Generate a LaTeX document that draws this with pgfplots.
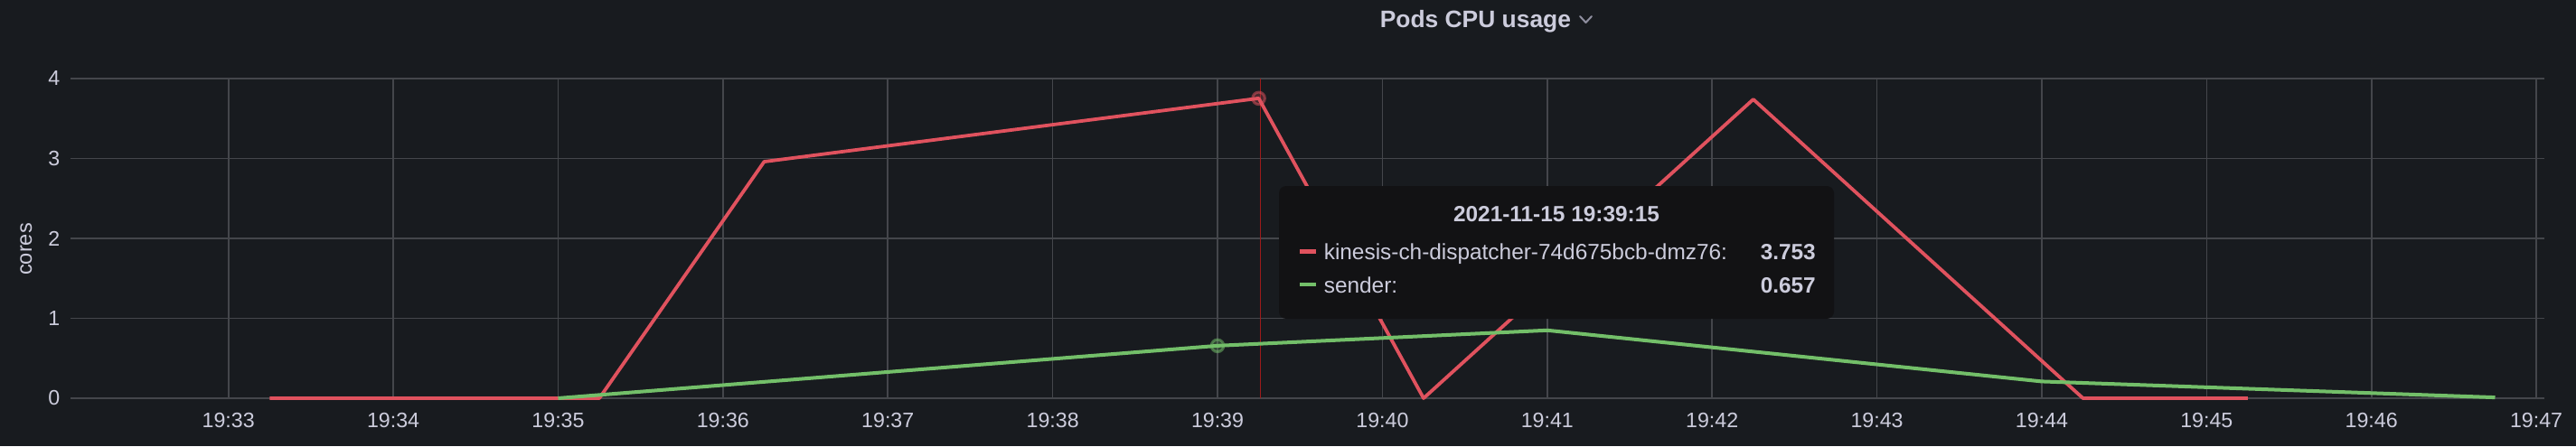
\documentclass[border=0pt]{standalone}
\usepackage{fontspec}
\setmainfont{Liberation Sans}
\usepackage{pgfplots}
\pgfplotsset{compat=1.18}
\definecolor{bg}{HTML}{181B1F}
\definecolor{gridc}{HTML}{44464B}
\definecolor{txt}{HTML}{CCCCDC}
\definecolor{redl}{HTML}{E0525E}
\definecolor{greenl}{HTML}{73BF69}
\definecolor{hover}{HTML}{9E1B1B}
\definecolor{tipbg}{HTML}{121214}
\definecolor{chev}{HTML}{8E8E9E}
\begin{document}
\begin{tikzpicture}
\fill[bg] (0pt,0pt) rectangle (712.5pt,123.5pt);
\useasboundingbox (0pt,0pt) rectangle (712.5pt,123.5pt);
\begin{axis}[
  at={(19.5pt,13.25pt)}, anchor=south west,
  scale only axis, width=684.25pt, height=88.5pt,
  xmin=32.042, xmax=47.049, ymin=0, ymax=4,
  xtick={33,34,35,36,37,38,39,40,41,42,43,44,45,46,47},
  xticklabels={19:33,19:34,19:35,19:36,19:37,19:38,19:39,19:40,19:41,19:42,19:43,19:44,19:45,19:46,19:47},
  ytick={0,1,2,3,4},
  grid=major,
  major grid style={draw=gridc, line width=0.4pt},
  axis line style={draw=none},
  tick style={draw=none},
  /pgf/number format/assume math mode=true,
  tick label style={font=\fontsize{5.8pt}{6pt}\selectfont, text=txt},
  xticklabel style={anchor=base, inner sep=0pt, yshift=-8.2pt},
  yticklabel style={anchor=east, inner sep=0pt, xshift=-2.75pt},
  clip=false,
]
\addplot[hover, line width=0.45pt] coordinates {(39.26,0) (39.26,4)};
\addplot[redl, line width=0.95pt, line join=round] coordinates {
  (33.25,0) (34.25,0) (35.25,0) (36.25,2.96) (39.25,3.753) (40.25,0) (42.25,3.74) (44.25,0) (45.25,0)
};
\addplot[greenl, line width=1.0pt, line join=round] coordinates {
  (35,0) (39,0.657) (41,0.85) (44,0.21) (46.75,0.01)
};
\addplot[only marks, mark=*, mark size=1.7pt, mark options={draw=redl, draw opacity=0.5, fill=redl, fill opacity=0.25, line width=0.75pt}] coordinates {(39.25,3.753)};
\addplot[only marks, mark=*, mark size=1.7pt, mark options={draw=greenl, draw opacity=0.5, fill=greenl, fill opacity=0.25, line width=0.75pt}] coordinates {(39,0.657)};
\end{axis}
% title
\node[anchor=base west, inner sep=0pt, text=txt, font=\fontsize{6.6pt}{7pt}\selectfont\bfseries] at (381.5pt,115.75pt) {Pods CPU usage};
\draw[chev, line width=0.5pt, line cap=round, line join=round] (437pt,119pt) -- (438.625pt,117.25pt) -- (440.25pt,119pt);
% y label
\node[rotate=90, inner sep=0pt, text=txt, font=\fontsize{5.9pt}{6pt}\selectfont] at (7.25pt,54.5pt) {cores};
% tooltip
\fill[tipbg, rounded corners=2pt] (353.75pt,35.25pt) rectangle (507.25pt,72pt);
\node[anchor=base, inner sep=0pt, text=txt, font=\fontsize{6.1pt}{7pt}\selectfont\bfseries] at (430.5pt,62.25pt) {2021-11-15 19:39:15};
\draw[redl, line width=1.2pt] (359.5pt,53.9pt) -- (364pt,53.9pt);
\node[anchor=base west, inner sep=0pt, text=txt, font=\fontsize{6.1pt}{7pt}\selectfont] at (366pt,51.6pt) {kinesis-ch-dispatcher-74d675bcb-dmz76:};
\node[anchor=base east, inner sep=0pt, text=txt, font=\fontsize{6.1pt}{7pt}\selectfont\bfseries] at (502.4pt,51.6pt) {3.753};
\draw[greenl, line width=1.2pt] (359.5pt,44.75pt) -- (364pt,44.75pt);
\node[anchor=base west, inner sep=0pt, text=txt, font=\fontsize{6.1pt}{7pt}\selectfont] at (366pt,42.4pt) {sender:};
\node[anchor=base east, inner sep=0pt, text=txt, font=\fontsize{6.1pt}{7pt}\selectfont\bfseries] at (502.4pt,42.4pt) {0.657};
\end{tikzpicture}
\end{document}
